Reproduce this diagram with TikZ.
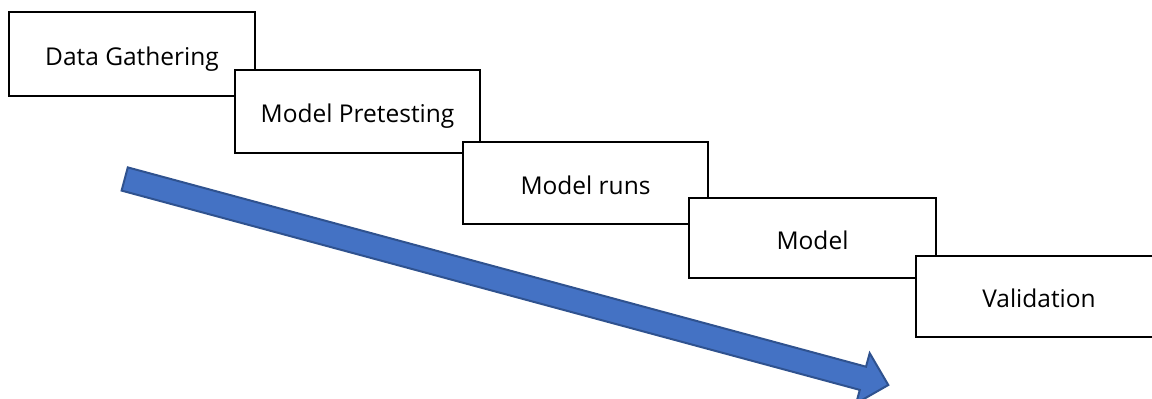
\documentclass[tikz,border=0pt]{standalone}
\usepackage{fontspec}
\setmainfont{Open Sans}
\definecolor{arrowfill}{HTML}{4472C4}
\definecolor{arrowline}{HTML}{2F528F}
\begin{document}
\begin{tikzpicture}[x=1pt,y=-1pt,
  stage/.style={draw=black, fill=white, line width=1.5pt, inner sep=0pt,
    font=\fontsize{24.5}{29}\selectfont, text depth=3pt, text height=25pt},
  flow/.style={draw=arrowline, fill=arrowfill, line width=2pt, line join=miter}]
\useasboundingbox (0,0) rectangle (1152,399);
\clip (0,0) rectangle (1152,399);
% the stages, each one laid over the previous
\node[stage, minimum width=246pt, minimum height=84pt] (gather) at (132,54) {Data Gathering};
\node[stage, minimum width=245pt, minimum height=83pt] (pretest) at (357.5,111.5) {Model Pretesting};
\node[stage, minimum width=245pt, minimum height=82pt] (runs) at (585.5,183) {Model runs};
\node[stage, minimum width=247pt, minimum height=80pt] (model) at (812.5,238) {Model};
\node[stage, minimum width=246pt, minimum height=81pt] (valid) at (1039,296.5) {Validation};
% broad arrow pointing down the stages
\coordinate (tailA) at (127.8,167.4);
\coordinate (neckA) at (866.0,366.7);
\coordinate (barbA) at (869.7,353.2);
\coordinate (tip) at (888.3,385);
\coordinate (barbB) at (856.1,403.4);
\coordinate (neckB) at (859.8,389.9);
\coordinate (tailB) at (121.6,190.6);
\draw[flow] (tailA) -- (neckA) -- (barbA) -- (tip) -- (barbB) -- (neckB) -- (tailB) -- cycle;
\end{tikzpicture}
\end{document}
